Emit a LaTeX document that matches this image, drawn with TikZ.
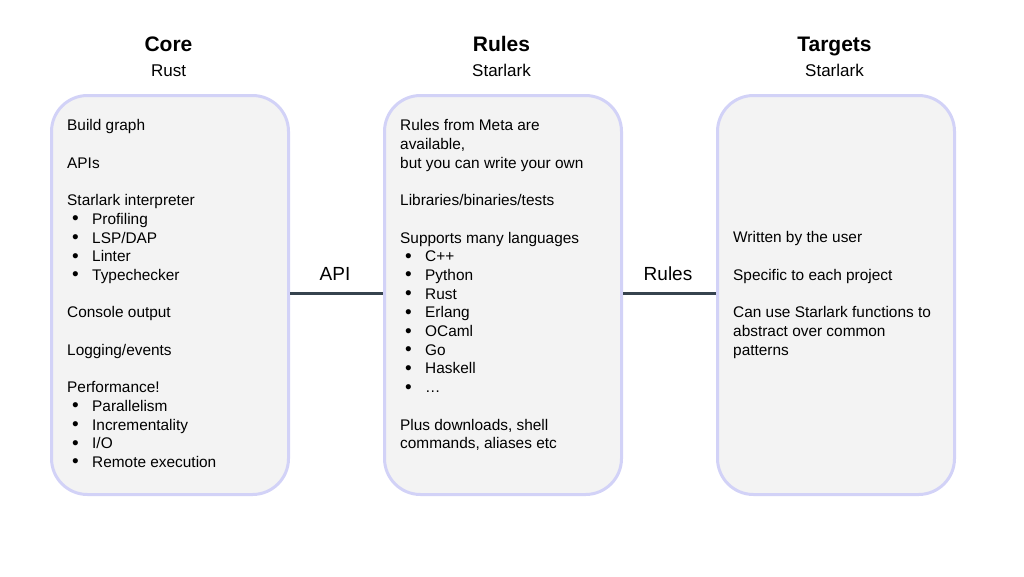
\documentclass[tikz,border=0pt]{standalone}
\usepackage{fontspec}
\setmainfont{Liberation Sans}
\definecolor{bord}{HTML}{D2D2F7}
\definecolor{boxfill}{HTML}{F3F3F3}
\definecolor{conn}{HTML}{36434E}
\newcommand{\bl}{\makebox[25pt][l]{\hspace{5pt}\raisebox{-0.5pt}{\fontsize{19}{18.7}\selectfont\textbullet}}}
\begin{document}
\begin{tikzpicture}[x=1pt,y=-1pt,
  box/.style={draw=bord,line width=3pt,fill=boxfill,rounded corners=36pt,minimum width=237pt,minimum height=399pt,anchor=north west,inner sep=0pt},
  txt/.style={anchor=north west,inner sep=0pt,align=left,font=\fontsize{15.4}{18.7}\selectfont},
  ttl/.style={font=\fontsize{21}{24}\selectfont\bfseries,inner sep=0pt,anchor=base},
  sub/.style={font=\fontsize{17}{20}\selectfont,inner sep=0pt,anchor=base},
  lbl/.style={font=\fontsize{19}{22}\selectfont,inner sep=0pt,anchor=base},
  con/.style={conn,line width=3pt}]
\useasboundingbox (0,0) rectangle (1024,576);
\node[box] (core) at (50,94) {};
\node[box] (rules) at (383,94) {};
\node[box] (targets) at (716,94) {};
\node[ttl] (t1) at (168.5,51) {Core};
\node[sub] (s1) at (168.5,76) {Rust};
\node[ttl] (t2) at (501.5,51) {Rules};
\node[sub] (s2) at (501.5,76) {Starlark};
\node[ttl] (t3) at (834.5,51) {Targets};
\node[sub] (s3) at (834.5,76) {Starlark};
\node[txt] (c1) at (67,119.5) {Build graph\\[18.7pt]APIs\\[18.7pt]Starlark interpreter\\
\bl Profiling\\\bl LSP/DAP\\\bl Linter\\\bl Typechecker\\[18.7pt]Console output\\[18.7pt]Logging/events\\[18.7pt]Performance!\\
\bl Parallelism\\\bl Incrementality\\\bl I/O\\\bl Remote execution};
\node[txt] (r1) at (400,119.5) {Rules from Meta are\\available,\\but you can write your own\\[18.7pt]Libraries/binaries/tests\\[18.7pt]Supports many languages\\
\bl C++\\\bl Python\\\bl Rust\\\bl Erlang\\\bl OCaml\\\bl Go\\\bl Haskell\\\bl \dots\\[18.7pt]Plus downloads, shell\\commands, aliases etc};
\node[txt] (g1) at (733,231.5) {Written by the user\\[18.7pt]Specific to each project\\[18.7pt]Can use Starlark functions to\\abstract over common\\patterns};
\draw[con] (core.east |- 0,293) -- (rules.west |- 0,293);
\draw[con] (rules.east |- 0,293) -- (targets.west |- 0,293);
\node[lbl] (a1) at (335,280) {API};
\node[lbl] (a2) at (668,280) {Rules};
\end{tikzpicture}
\end{document}
